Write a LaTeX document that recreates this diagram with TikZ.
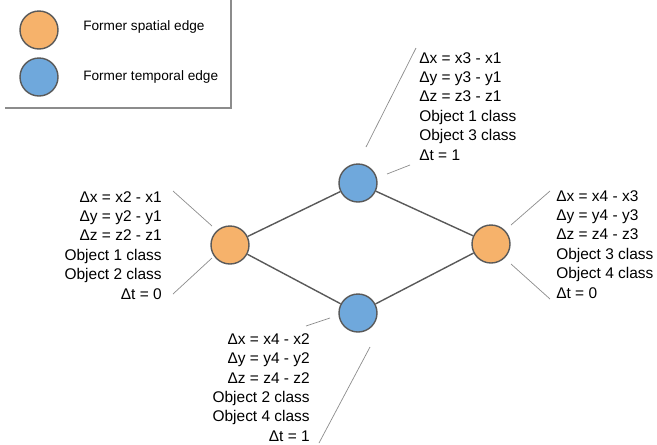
\documentclass[tikz,border=0pt]{standalone}
\usepackage{fontspec}
\setmainfont{Liberation Sans}
\definecolor{spatial}{HTML}{F6B26B}
\definecolor{temporal}{HTML}{6FA8DC}
\definecolor{rim}{HTML}{595959}
\definecolor{pointer}{HTML}{8C8C8C}

\begin{document}
\begin{tikzpicture}[scale=1.0, >=stealth,
        edgenode/.style={circle, draw=rim, line width=1pt, minimum size=0.95cm, inner sep=0pt},
        infobox/.style={inner sep=0pt, font=\fontsize{11}{13.8}\selectfont},
        legendtext/.style={inner sep=0pt, font=\fontsize{9.7}{12}\selectfont},
        pointerline/.style={draw=pointer, line width=0.5pt}]
        \useasboundingbox (0,0) rectangle (16.425,-11.1);

        % legend
        \draw[pointer, line width=1pt] (0.125,-2.7) -- (5.775,-2.7) -- (5.775,0);
        \node[edgenode, fill=spatial] (LS) at (0.975,-0.75) {};
        \node[edgenode, fill=temporal] (LT) at (0.975,-1.925) {};
        \node[legendtext, anchor=west] (LStext) at (2.075,-0.675) {Former spatial edge};
        \node[legendtext, anchor=west] (LTtext) at (2.075,-1.925) {Former temporal edge};

        % graph
        \node[edgenode, fill=spatial] (L) at (5.75,-6.125) {};
        \node[edgenode, fill=temporal] (T) at (8.95,-4.575) {};
        \node[edgenode, fill=temporal] (B) at (8.95,-7.825) {};
        \node[edgenode, fill=spatial] (R) at (12.275,-6.1) {};
        \draw[rim, line width=1pt] (L) -- (T) -- (R) -- (B) -- (L);

        % labels
        \node[infobox, anchor=north west, align=left] (Ttext) at (10.475,-1.3)
            {Δx = x3 - x1\\Δy = y3 - y1\\Δz = z3 - z1\\Object 1 class\\Object 3 class\\Δt = 1};
        \node[infobox, anchor=north east, align=right] (Ltext) at (4.05,-4.775)
            {Δx = x2 - x1\\Δy = y2 - y1\\Δz = z2 - z1\\Object 1 class\\Object 2 class\\Δt = 0};
        \node[infobox, anchor=north west, align=left] (Rtext) at (13.9,-4.75)
            {Δx = x4 - x3\\Δy = y4 - y3\\Δz = z4 - z3\\Object 3 class\\Object 4 class\\Δt = 0};
        \node[infobox, anchor=north east, align=right] (Btext) at (7.75,-8.33)
            {Δx = x4 - x2\\Δy = y4 - y2\\Δz = z4 - z2\\Object 2 class\\Object 4 class\\Δt = 1};

        % pointer lines
        \coordinate (T1) at (9.15,-3.675);   \coordinate (T2) at (10.4,-1.2);
        \coordinate (T3) at (9.675,-4.35);   \coordinate (T4) at (10.25,-4.125);
        \coordinate (L1) at (4.325,-4.775);  \coordinate (L2) at (5.3,-5.65);
        \coordinate (L3) at (5.3,-6.45);     \coordinate (L4) at (4.325,-7.35);
        \coordinate (R1) at (12.775,-5.625); \coordinate (R2) at (13.75,-4.775);
        \coordinate (R3) at (12.775,-6.6);   \coordinate (R4) at (13.75,-7.475);
        \coordinate (B1) at (7.65,-8.15);    \coordinate (B2) at (8.25,-7.95);
        \coordinate (B3) at (9.25,-8.675);   \coordinate (B4) at (7.975,-11.075);
        \draw[pointerline] (T1) -- (T2);
        \draw[pointerline] (T3) -- (T4);
        \draw[pointerline] (L1) -- (L2);
        \draw[pointerline] (L3) -- (L4);
        \draw[pointerline] (R1) -- (R2);
        \draw[pointerline] (R3) -- (R4);
        \draw[pointerline] (B1) -- (B2);
        \draw[pointerline] (B3) -- (B4);

    \end{tikzpicture}
\end{document}
